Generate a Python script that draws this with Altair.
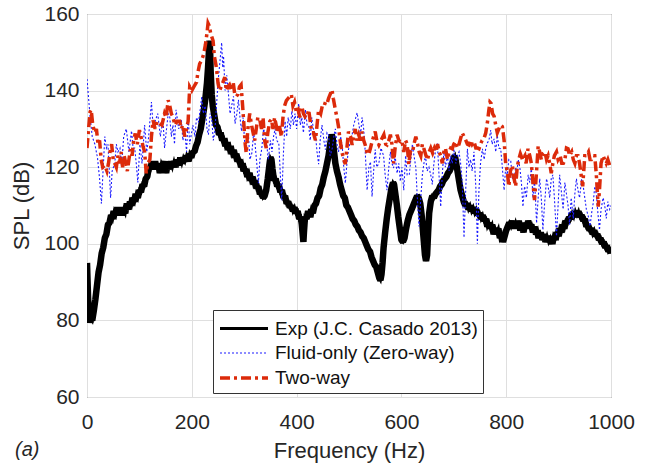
import altair as alt
import pandas as pd

# ---------------- data ----------------
exp_freq = [0, 2, 4, 6, 8, 10, 13, 16, 19, 22, 25, 28, 31, 34, 37, 40, 43, 46, 49, 52, 55, 58, 61, 64, 67, 70,
            73, 76, 79, 82, 85, 88, 91, 94, 97, 100, 103, 106, 109, 112, 115, 118, 121, 124, 127, 130, 133, 136,
            139, 142, 145, 148, 151, 154, 157, 160, 163, 166, 169, 172, 175, 178, 181, 184, 187, 190, 193, 196,
            199, 202, 205, 208, 211, 214, 217, 220, 223, 226, 229, 231, 233, 234, 235, 236, 238, 240, 243, 246,
            249, 252, 255, 258, 261, 264, 267, 270, 273, 276, 279, 282, 285, 288, 291, 294, 297, 300, 303, 306,
            309, 312, 315, 318, 321, 324, 327, 330, 333, 336, 339, 342, 345, 348, 350, 352, 354, 357, 360, 363,
            366, 369, 372, 375, 378, 381, 384, 387, 390, 393, 396, 399, 402, 405, 408, 410, 412, 413, 414, 416,
            419, 422, 425, 428, 431, 434, 437, 440, 443, 446, 449, 452, 455, 458, 461, 464, 467, 469, 471, 474,
            477, 480, 483, 486, 489, 492, 495, 498, 501, 504, 507, 510, 513, 516, 519, 522, 525, 528, 531, 534,
            537, 540, 543, 546, 549, 552, 555, 558, 560, 562, 564, 566, 569, 572, 575, 578, 581, 584, 586, 588,
            591, 594, 597, 600, 603, 606, 609, 612, 615, 618, 621, 624, 627, 630, 633, 636, 639, 642, 645, 647,
            649, 651, 653, 656, 659, 662, 665, 668, 671, 674, 677, 680, 683, 686, 689, 692, 695, 698, 700, 702,
            704, 707, 710, 713, 716, 719, 722, 725, 728, 731, 734, 737, 740, 743, 746, 749, 752, 755, 758, 761,
            764, 767, 770, 773, 776, 779, 782, 785, 788, 791, 794, 797, 800, 803, 806, 809, 812, 815, 818, 821,
            824, 827, 830, 833, 836, 839, 842, 845, 848, 851, 854, 857, 860, 863, 866, 869, 872, 875, 878, 881,
            884, 887, 890, 893, 896, 899, 902, 905, 908, 911, 914, 917, 920, 923, 926, 929, 932, 935, 938, 941,
            944, 947, 950, 953, 956, 959, 962, 965, 968, 971, 974, 977, 980, 983, 986, 989, 992, 995, 998, 1000]
exp_spl = [95, 86, 81, 79.5, 80.5, 80, 82.5, 85.5, 89, 92.5, 94.5, 97.5, 99, 101.5, 102.5, 105, 105.5, 107.5,
           106.5, 108.5, 107.5, 109.5, 107.5, 109.5, 107.5, 109, 108, 110.5, 109, 111, 110, 112, 111, 113, 112,
           114, 113.5, 115.5, 115, 117, 117.5, 120, 119.5, 121.5, 119.5, 121.5, 119.5, 121, 118.5, 121, 120,
           121.5, 118.5, 121, 119.5, 121.5, 120, 121.5, 120, 122, 120.5, 122.5, 121, 122.5, 121.5, 123, 121.5,
           123.5, 122.5, 124, 124, 125.5, 126.5, 128.5, 130, 132.5, 135, 138, 142, 146, 151, 153, 150, 145, 139,
           136, 133.5, 131, 130.5, 128.5, 129, 127, 127.5, 125.5, 126.5, 124.5, 125.5, 123.5, 124.5, 122.5,
           123.5, 121.5, 122, 120, 121, 119, 119.5, 117.5, 118.5, 116.5, 117.5, 115.5, 116.5, 114.5, 115, 113,
           113.5, 112, 112.5, 114, 117, 120.5, 122.5, 122, 119.5, 116.5, 117, 115, 115.5, 113.5, 114, 112,
           112.5, 110.5, 111, 109.5, 110, 108.5, 109.5, 108, 108.5, 106.5, 107, 105, 102, 100.5, 103, 107,
           106.5, 108.5, 107, 109, 108, 110, 110.5, 112, 112.5, 114.5, 115.5, 117.5, 119, 121, 123, 126, 128.5,
           127.5, 124.5, 121, 119, 117.5, 115.5, 114, 112.5, 112, 110, 109.5, 108.5, 107.5, 106.5, 106, 105,
           104.5, 103.5, 103, 102, 101.5, 100.5, 99.5, 98.5, 98, 96.5, 95.5, 94.5, 94, 92.5, 91, 90.5, 92, 95,
           99, 103, 106.5, 109.5, 112, 114.5, 116, 115.5, 113.5, 110.5, 107, 104, 101, 100.5, 101.5, 104, 106,
           107.5, 108.5, 109.5, 110.5, 111.5, 112.5, 112, 110.5, 107, 102, 97, 95.5, 97, 103, 108, 111, 112.5,
           112, 113, 113.5, 114, 115, 115.5, 116.5, 117, 117.5, 118.5, 119, 120, 121.5, 122.5, 123, 121.5, 119,
           116.5, 114, 112.5, 111, 110, 110.5, 109, 110, 108.5, 109.5, 108, 109, 107.5, 108, 106.5, 107.5, 106,
           106.5, 104.5, 105.5, 104, 105, 102.5, 104, 103, 104, 101.5, 102.5, 100.5, 102, 103.5, 104.5, 105.5,
           104.5, 106, 104, 105.5, 104, 106, 103.5, 105, 103, 105.5, 104, 106, 104.5, 105, 103, 104.5, 102.5,
           103.5, 101.5, 103, 101, 102.5, 100.5, 102, 100.5, 101.5, 100, 102, 101, 103, 102, 104, 103, 105, 104,
           106, 105.5, 107, 106.5, 108, 107, 108.5, 107.5, 108.5, 107, 107.5, 106, 106.5, 104.5, 105, 103.5, 104,
           102.5, 103.5, 102, 102.5, 101, 101.5, 100, 100.5, 99, 99.5, 98, 98.5, 97.5]

fluid_freq = [0, 3, 6, 10, 15, 20, 24, 27.5, 31, 34, 37, 40, 43, 45, 48, 53, 56, 59, 63, 66, 70, 75, 80, 85, 88,
              91, 94, 97, 101, 105, 110, 114, 117, 123, 126, 130, 135, 140, 145, 148, 151, 155, 158, 161, 164,
              167, 170, 175, 180, 183, 186.5, 190, 193, 196, 199, 202, 206, 209, 212.6, 216, 219, 222, 225.5, 229,
              231.7, 235, 238, 241, 244, 248, 251, 254, 257, 259, 260.6, 263.5, 266.7, 270, 273, 276, 279.6,
              282.5, 286, 289, 292, 295, 298, 302, 305, 308, 311, 314.6, 318, 320.6, 324, 327, 330, 333.4, 337,
              340, 343, 346, 350, 353, 356, 359, 362, 366, 369, 371.6, 375, 378, 381, 384, 388, 391, 394, 397,
              400, 404, 407, 410, 413, 417, 420, 423, 426, 429, 432, 436, 439, 442, 445, 448.5, 452, 455, 458,
              461, 464, 467.6, 471, 474, 477, 480, 484, 487, 490, 493, 496, 499, 503, 506, 509, 512, 515.5, 519,
              522, 525, 528, 531, 534.6, 538, 541, 544, 547, 550, 553, 557, 561, 566, 569, 572.5, 576, 579, 582,
              585, 588, 591.8, 595, 598, 601, 604.5, 608, 611, 615, 618, 621, 624, 627.5, 630, 633.6, 637, 640,
              643, 646, 649, 652.6, 656, 659, 662, 665.5, 668.7, 671, 675, 678, 681, 684, 688, 691, 694, 697, 700,
              704, 707, 710, 713, 716, 719.5, 723, 726, 729, 732, 735, 738.5, 742, 745, 748, 751, 754.6, 758, 761,
              764, 767, 770.5, 773, 777, 780, 783, 786, 789.5, 792, 796, 799, 802, 805, 808.7, 812, 815, 818, 820,
              823, 826, 829, 832, 835, 838.5, 842, 845, 848, 851, 854, 858, 861, 864, 867, 870, 873, 877, 880, 883,
              886, 889, 892, 896, 899, 902, 905, 908.6, 912, 915, 918, 921, 924, 928, 931, 934, 937, 940, 944, 947,
              950, 953, 957, 960, 963, 966, 969, 972, 975, 978, 981, 985, 988, 991, 994, 997.5, 1000]
fluid_spl = [143, 138, 133, 128, 126, 122.5, 117, 110.5, 120, 128, 125, 126, 118, 112, 119, 121, 126, 124, 125,
             120, 128, 130, 124, 129.5, 125, 125, 121, 116, 126, 121, 131, 124, 127, 137, 131, 132, 134, 128,
             132.5, 125, 129, 134, 133, 128, 131, 126, 135, 130, 132.5, 127, 129.3, 124, 133.3, 126, 128.5, 131,
             128, 133, 131.7, 135, 138.4, 134, 136, 130, 128.5, 134, 132.8, 127, 129.4, 138, 143.6, 148, 152.5,
             146, 149, 140, 144, 139, 134, 136, 138.5, 131.4, 134, 137.6, 133, 129.4, 133, 124, 127, 128.5, 122,
             123.7, 129, 126.3, 121, 115.8, 122, 124.7, 130, 128.5, 126, 122, 127, 124, 128, 130, 127, 126.3, 118,
             111.4, 124, 132, 128, 133, 130, 134.7, 131, 134, 130, 136.6, 131, 133, 129, 135, 131, 131, 127, 133,
             130, 128.5, 124, 120.8, 127, 131, 127, 124.6, 129, 128.5, 123, 124.6, 128, 130, 126, 124, 128, 125.6,
             120, 115.8, 121, 124.6, 127, 128.5, 131, 132.5, 134.2, 131, 128.5, 133, 130, 124, 114, 120, 121.4,
             112.3, 119, 124.6, 120, 121, 125, 123, 118, 114, 120, 124, 121, 119.8, 123, 118.4, 121, 116.3, 120,
             114, 123, 118, 118, 122, 126, 123, 120, 113, 104.5, 112, 118, 121, 123, 119, 120, 118, 115.5, 121,
             124.8, 126.3, 120, 109.7, 118, 124, 120, 123, 119, 123, 121, 124.8, 121, 123, 124, 121, 116.3, 101.6,
             115, 124.8, 120, 122, 119, 124, 115, 100, 114, 121, 124.8, 122, 125, 126.3, 127, 129.7, 126, 127.4,
             124, 128.3, 125, 124.8, 121, 114, 120, 118, 122, 121.6, 117, 116.3, 120, 118.4, 122, 120, 116, 109.7,
             115, 112, 118, 116, 120, 112, 117, 105.4, 112, 117, 112, 103.6, 110, 117, 115, 112, 117, 118, 112,
             102, 110, 118, 114, 109, 116, 113, 110, 105, 112, 106.6, 113, 117, 114, 112, 117, 115, 112, 109, 107,
             104.6, 108, 110.6, 115, 113, 108, 103.6, 109, 112, 110, 106.6, 111, 109, 110]

two_freq = [0, 3, 6, 8, 11, 15, 18, 21, 24, 27, 30, 34, 38, 41, 44, 47, 50, 53, 56, 59, 62, 65, 68, 71, 74, 77,
            80, 83, 86, 89, 92, 96, 100, 103, 107, 110, 113, 116, 120, 123, 126, 130, 134, 139, 143, 148, 151,
            155, 158, 161, 164, 168, 172, 177, 180, 183, 186.5, 190, 193, 196, 200, 204, 209, 212, 215, 219,
            222.7, 226, 229, 231, 233, 236, 240.6, 243, 247, 250, 253, 256, 259, 263, 266, 269, 272, 276, 279,
            282, 285, 288, 291, 294, 297, 300, 302, 304, 307, 310.5, 314, 317, 320, 323, 326, 329.6, 333, 336,
            339, 342, 345, 349, 352, 355, 358, 361, 364, 367, 371, 374, 377, 380.5, 384, 387, 390, 393, 396,
            399.6, 403, 406, 410, 413, 417, 420, 423, 426, 429, 432, 436, 439, 442, 446, 449, 452, 455, 458, 461,
            464, 467.6, 470, 474, 477, 480, 483, 487, 490, 493, 496, 499, 503, 506, 509, 512, 515, 518.5, 522,
            525, 528, 531, 534, 537.6, 541, 544, 547, 550, 553, 557, 561, 566.5, 570, 572.5, 576, 579, 582, 585,
            588, 591.8, 595, 598, 601, 604.5, 608, 611, 614, 617, 621, 624, 627.5, 631, 634, 637, 640, 643, 647,
            650, 653, 656, 659.6, 663, 666, 669, 672, 675, 678, 681, 684, 688, 691, 694, 697, 700, 703, 707, 710,
            713, 716, 719.5, 723, 726, 729, 732, 735, 738.5, 742, 745, 748, 751, 754, 757.6, 761, 764, 767, 769,
            771, 774, 777, 780, 783, 786, 789, 792.7, 796, 799, 802, 805, 808, 811.8, 815, 818, 821, 824, 827,
            831, 835.6, 838, 841.6, 845, 848, 851, 854, 857, 861, 864, 867, 870, 874, 877, 880, 883, 886, 889,
            892, 896, 899, 903, 906, 909, 912, 915, 918, 921, 925, 928, 931, 934, 937, 940, 943, 946, 948, 950,
            953, 957, 960, 962.5, 966, 969, 972, 975.6, 978, 981, 985, 988, 991, 994, 997.5, 1000]
two_spl = [125, 130, 134.5, 135, 131, 129, 130, 126, 127, 122, 120, 120.5, 119, 121, 124, 126, 122, 121, 120,
           123, 121, 124, 120, 123, 121, 119, 122, 124.7, 123, 127, 128.8, 126, 129.7, 128, 125.4, 124, 118.4,
           121, 122, 128, 132.3, 130, 132, 131.4, 131, 134, 133, 137.5, 136, 134, 133, 131, 132, 132, 130, 131,
           128, 130, 132, 141, 140, 141, 142.2, 145, 147, 148, 149.5, 152, 155, 157.6, 157, 155, 153, 149, 146,
           142, 140, 141, 142, 143.5, 140, 141, 141.5, 140, 142.2, 139, 138.5, 139, 141, 141.5, 136, 130, 126,
           123.7, 130, 134, 131, 129, 127, 130, 133, 132.5, 130, 133, 127, 125, 129, 132, 132.5, 130, 133, 131,
           129, 131, 128, 133, 136, 137.4, 138, 138.5, 139, 136, 137, 134.4, 135, 133, 135.8, 134, 133, 133, 135,
           132, 129, 129, 127, 131, 135, 134, 136, 135.8, 137, 136.6, 138, 139, 140.2, 138, 135, 133, 130.6, 127,
           123.7, 122, 120.8, 125, 129.3, 128, 125.8, 128, 130, 127, 128.5, 127, 129.3, 127, 125.8, 124, 123.3,
           125, 126.7, 128, 129.3, 127, 125.8, 127, 128.5, 126, 125.8, 127, 128.5, 126, 121, 125, 128.5, 127,
           126.7, 127, 124, 127, 126, 120.8, 124, 123.7, 126, 128, 126, 124, 123, 126, 124.8, 123, 121.9, 124,
           125, 123.7, 125, 124, 126, 124, 123, 121, 124, 125, 122, 124, 125, 124.8, 126, 126.7, 125, 126, 127.5,
           129, 128, 127, 126, 125.8, 127, 126, 126.7, 125, 125, 124.8, 126, 127, 127.5, 129, 131.5, 135, 137,
           136.7, 134, 133.3, 131, 129, 130, 131, 130.6, 127, 121, 119, 115, 119, 120.5, 117, 115, 120, 122,
           123.5, 122, 123, 121, 124.8, 123, 121, 116, 111.4, 117, 125.5, 124, 122, 123.5, 124, 122, 123, 121,
           118.4, 121, 123, 124, 122, 123, 121, 121, 122, 125, 124.8, 123, 124, 122, 121, 123, 123, 121, 118,
           115, 119, 123, 123, 124, 122, 122, 123, 123, 118, 109.7, 114, 121, 123, 122, 121, 122, 120.5, 121]

SERIES = ["Exp (J.C. Casado 2013)", "Fluid-only (Zero-way)", "Two-way"]
COLORS = ["#000000", "#1a1aff", "#dc2a0a"]
DASHES = [[1, 0], [2, 2], [10, 4, 3, 4]]
WIDTHS = [3, 1.1, 3.5]
X_TICKS = [0, 200, 400, 600, 800, 1000]
Y_TICKS = [60, 80, 100, 120, 140, 160]

FONT = "Liberation Sans"


def frame(f, v, name):
    return pd.DataFrame({"freq": f, "spl": v, "series": name})


frames = [frame(exp_freq, exp_spl, SERIES[0]),
          frame(fluid_freq, fluid_spl, SERIES[1]),
          frame(two_freq, two_spl, SERIES[2])]

# custom legend stroke: path from -1 to 3 units (unit = sqrt(size)/2 = 12px) -> 48px long line
legend = alt.Legend(
    orient="none", legendX=126, legendY=296, title=None,
    symbolType="M-1,0H3", symbolSize=576, labelFontSize=19, labelFont=FONT,
    labelColor="#111111", padding=5, rowPadding=1, labelOffset=29, labelLimit=400,
    strokeColor="#333333", fillColor="white", cornerRadius=0,
)

x_enc = alt.X("freq:Q", scale=alt.Scale(domain=[0, 1000], nice=False, zero=False),
              axis=alt.Axis(values=X_TICKS, title="Frequency (Hz)", format="d", labelFlush=False))
y_enc = alt.Y("spl:Q", scale=alt.Scale(domain=[60, 160], nice=False, zero=False),
              axis=alt.Axis(values=Y_TICKS, title="SPL (dB)", format="d", labelFlush=False))
c_enc = alt.Color("series:N", scale=alt.Scale(domain=SERIES, range=COLORS), legend=legend)
d_enc = alt.StrokeDash("series:N", scale=alt.Scale(domain=SERIES, range=DASHES), legend=legend)
w_enc = alt.StrokeWidth("series:N", scale=alt.Scale(type="ordinal", domain=SERIES, range=WIDTHS), legend=legend)

# thick under-stroke that gives the measured (noisy) curve its band width
exp_band = alt.Chart(frames[0]).mark_line(
    clip=True, color="#000000", strokeWidth=6.5, strokeJoin="bevel"
).encode(x=x_enc, y=y_enc, order=alt.Order("freq:Q"))

layers = [exp_band]
for df in frames:
    layers.append(
        alt.Chart(df).mark_line(clip=True, strokeJoin="miter", strokeCap="butt").encode(
            x=x_enc, y=y_enc, color=c_enc, strokeDash=d_enc, strokeWidth=w_enc,
            order=alt.Order("freq:Q"),
        )
    )

label = alt.Chart(pd.DataFrame({"t": ["(a)"]})).mark_text(
    align="left", baseline="middle", fontSize=20, fontStyle="italic", font=FONT, color="#262626"
).encode(x=alt.value(-72), y=alt.value(436), text="t:N")

chart = alt.layer(*layers, label).properties(
    width=524, height=383,
    autosize=alt.AutoSizeParams(type="none"),
    padding={"left": 87, "top": 14, "right": 34, "bottom": 70},
).configure_axis(
    labelFont=FONT, titleFont=FONT, labelFontSize=21, titleFontSize=22,
    labelColor="#262626", titleColor="#262626", titleFontWeight="normal",
    grid=True, gridColor="#dfdfdf", gridWidth=1, domain=False, ticks=False,
).configure_axisX(
    labelPadding=14, titlePadding=8,
).configure_axisY(
    labelPadding=8, titlePadding=10,
).configure_view(
    stroke="#4d4d4d", strokeWidth=1,
)

chart.save("out.html", embed_options={"renderer": "svg", "actions": False})
